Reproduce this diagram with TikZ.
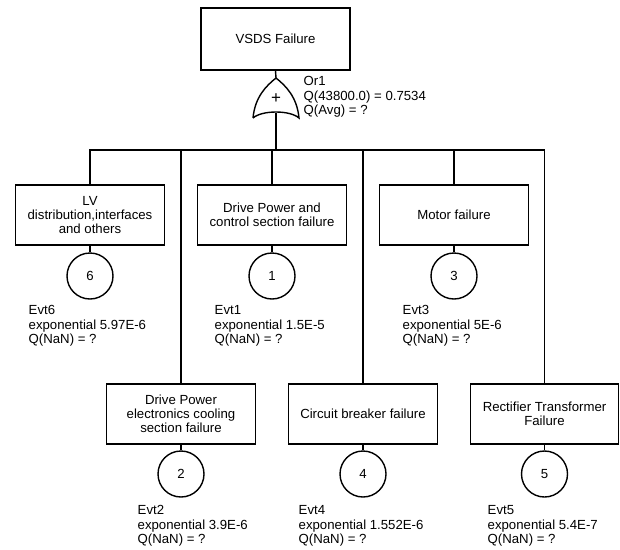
\documentclass[tikz,border=0pt]{standalone}
\usepackage{fontspec}
\setmainfont{Liberation Sans}
\begin{document}
\begin{tikzpicture}[x=1pt,y=-1pt,line width=1.4pt,
  txt/.style={font=\fontsize{13.2}{14.2}\selectfont},
  evbox/.style={draw,txt,minimum width=149pt,minimum height=60pt,align=center,inner sep=1pt},
  basic/.style={draw,circle,txt,minimum size=46pt,inner sep=0pt},
  info/.style={txt,anchor=west,align=left,inner sep=0pt,font=\fontsize{13.2}{14.4}\selectfont}]
\useasboundingbox (0,0) rectangle (620,549);
% top event
\node[evbox,minimum width=149pt,minimum height=62pt] (top) at (275.5,39) {VSDS Failure};
% OR gate
\coordinate (gtop) at (276,78);
\coordinate (gbot) at (276,113);
\draw (253,118) .. controls (255,97) and (266,86) .. (gtop)
      .. controls (286,86) and (297,97) .. (299,118)
      .. controls (290,110) and (262,110) .. (253,118);
\node[font=\fontsize{17}{17}\selectfont,inner sep=0pt] (plus) at (276,99) {+};
\node[info] (orlbl) at (303,97) {Or1\\Q(43800.0) = 0.7534\\Q(Avg) = ?};
\coordinate (bus) at (276,150);
\draw (top.south) -- (gtop);
\draw (gbot) -- (bus);
% top row
\node[evbox] (e6) at (90,215) {LV\\distribution,interfaces\\and others};
\node[evbox] (e1) at (272,215) {Drive Power and\\control section failure};
\node[evbox] (e3) at (454,215) {Motor failure};
% bottom row
\node[evbox] (e2) at (181,414) {Drive Power\\electronics cooling\\section failure};
\node[evbox] (e4) at (363,414) {Circuit breaker failure};
\node[evbox,minimum width=148pt] (e5) at (544.5,414) {Rectifier Transformer\\Failure};
% circles
\node[basic] (c6) at (90,276) {6};
\node[basic] (c1) at (272,276) {1};
\node[basic] (c3) at (454,276) {3};
\node[basic] (c2) at (181,474) {2};
\node[basic] (c4) at (363,474) {4};
\node[basic] (c5) at (544.5,474) {5};
% connectors
\foreach \n in {e6,e1,e3,e2,e4,e5}{\draw (bus) -| (\n.north);}
\draw (e6.south) -- (c6.north);
\draw (e1.south) -- (c1.north);
\draw (e3.south) -- (c3.north);
\draw (e2.south) -- (c2.north);
\draw (e4.south) -- (c4.north);
\draw (e5.south) -- (c5.north);
% labels
\node[info] (l6) at (28,326) {Evt6\\exponential 5.97E-6\\Q(NaN) = ?};
\node[info] (l1) at (214,326) {Evt1\\exponential 1.5E-5\\Q(NaN) = ?};
\node[info] (l3) at (402,326) {Evt3\\exponential 5E-6\\Q(NaN) = ?};
\node[info] (l2) at (137,526) {Evt2\\exponential 3.9E-6\\Q(NaN) = ?};
\node[info] (l4) at (298,526) {Evt4\\exponential 1.552E-6\\Q(NaN) = ?};
\node[info] (l5) at (487,526) {Evt5\\exponential 5.4E-7\\Q(NaN) = ?};
\end{tikzpicture}
\end{document}
